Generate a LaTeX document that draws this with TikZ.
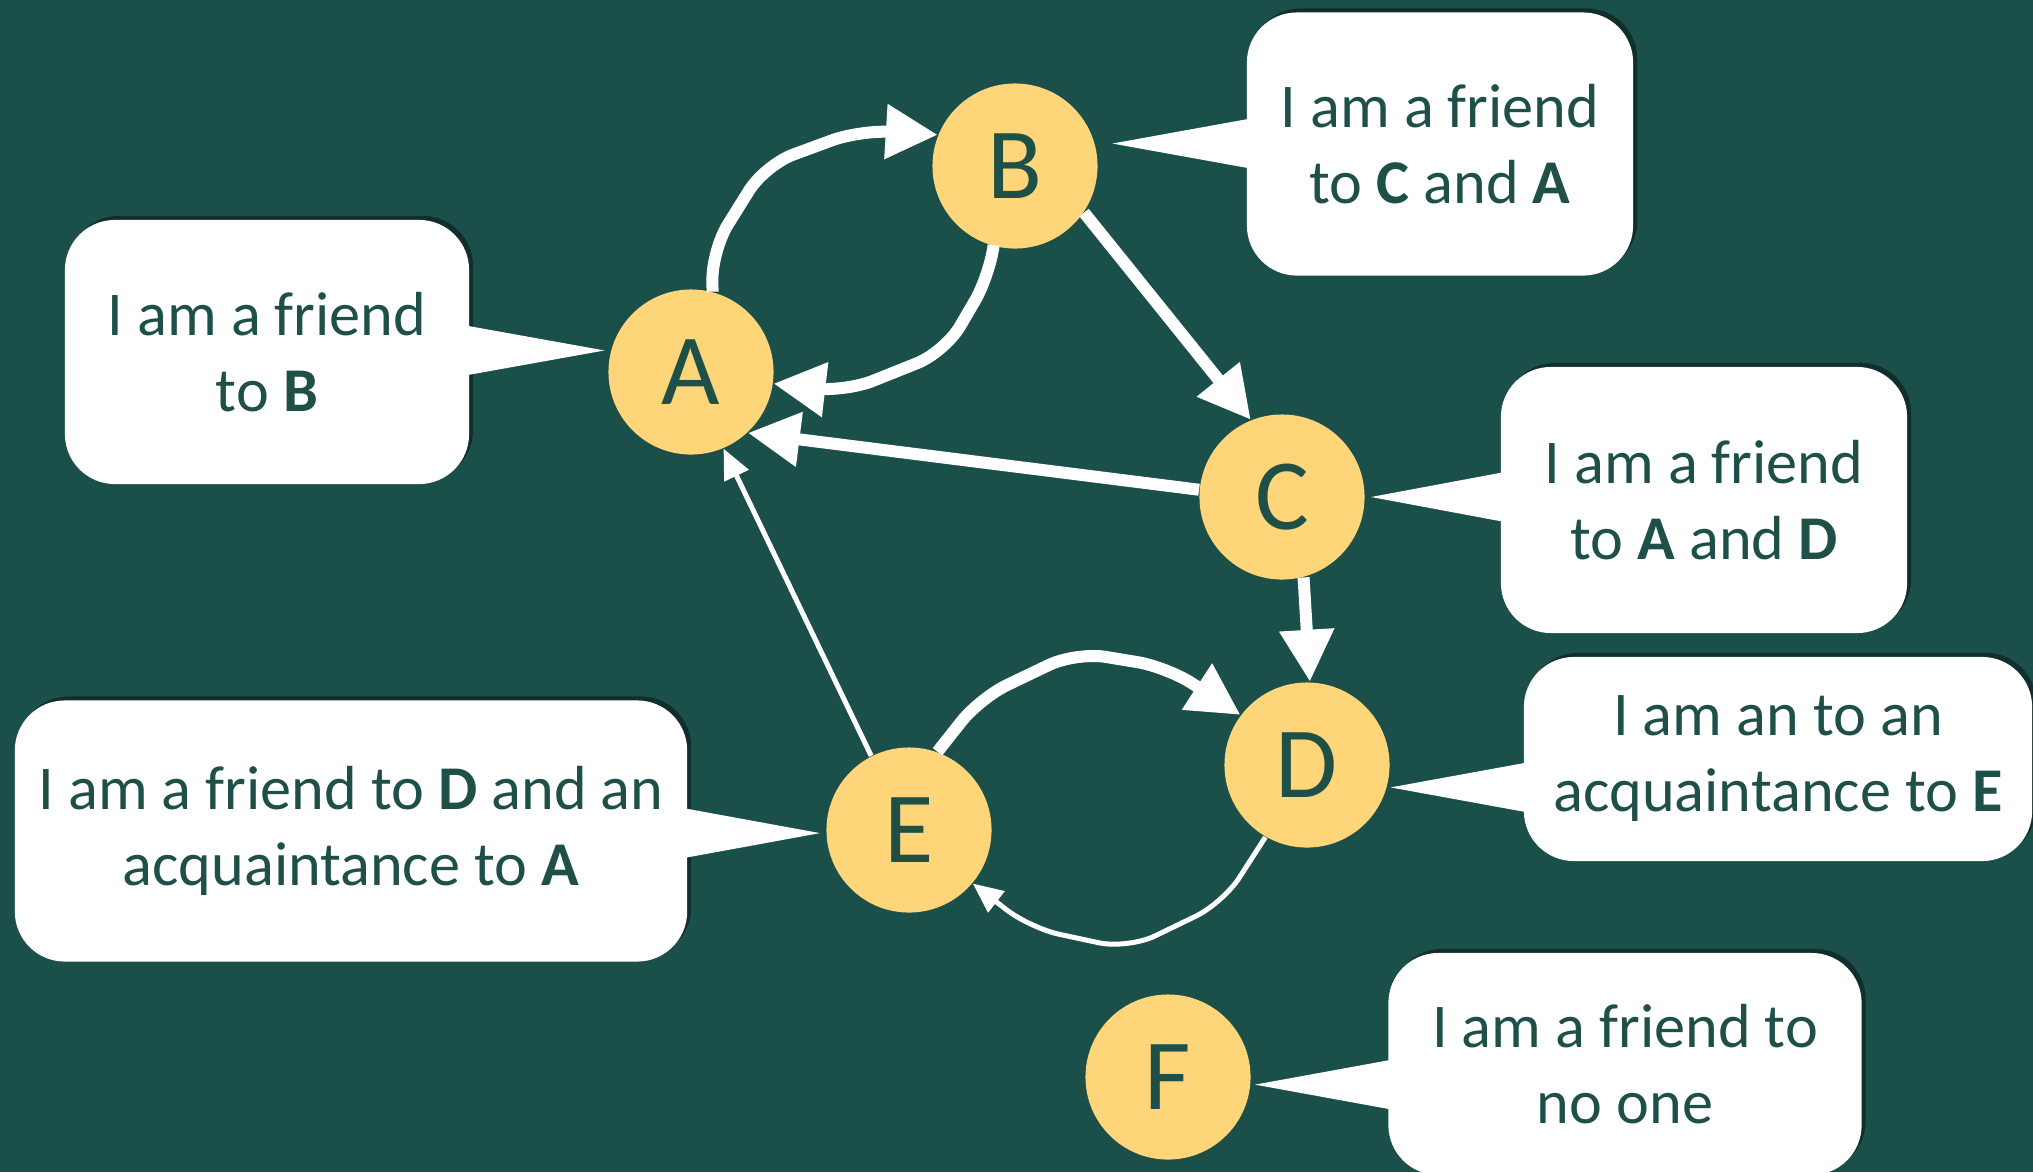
\documentclass[tikz,border=0pt]{standalone}
\usepackage{fontspec}
\setmainfont{Carlito}
\usetikzlibrary{ arrows.meta, % For the triangle tips
                 calc,        % For the tips of the bubbles
                 shadows,     % For the bubble shadows
               }
\definecolor{board}{RGB}{27,79,74}
\definecolor{ink}{RGB}{30,80,72}
\definecolor{sun}{RGB}{255,213,122}
\tikzset{
  person/.style={circle, fill=sun, text=ink, minimum size=1.65cm, inner sep=0pt,
                 font=\fontsize{28.7}{30}\selectfont},
  bubble/.style={fill=white, rounded corners=0.5cm, text=ink, align=center, inner sep=0pt,
                 font=\fontsize{17.7}{21.6}\selectfont,
                 drop shadow={shadow xshift=0.04cm, shadow yshift=0.04cm, opacity=0.4, fill=black}},
  friend/.style={draw=white, line width=0.12cm, rounded corners=0.3cm,
                 -{Triangle[length=0.52cm,width=0.52cm]}},
  acquaint/.style={draw=white, line width=0.05cm, rounded corners=0.3cm,
                   -{Triangle[length=0.3cm,width=0.26cm]}},
}
\begin{document}
\begin{tikzpicture}[x=0.01cm, y=-0.01cm] % one unit is one pixel
  \useasboundingbox (0,0) rectangle (2033,1172);
  \fill[board] (0,0) rectangle (2033,1172);

  % what each one says
  \node[bubble, minimum width=4.04cm, minimum height=2.64cm] (saysA) at (267,352) {I am a friend\\to \textbf{B}};
  \node[bubble, minimum width=3.86cm, minimum height=2.63cm] (saysB) at (1440,144) {I am a friend\\to \textbf{C} and \textbf{A}};
  \node[bubble, minimum width=4.06cm, minimum height=2.66cm] (saysC) at (1704,500) {I am a friend\\to \textbf{A} and \textbf{D}};
  \node[bubble, minimum width=5.08cm, minimum height=2.04cm] (saysD) at (1778,759) {I am an to an\\acquaintance to \textbf{E}};
  \node[bubble, minimum width=6.72cm, minimum height=2.61cm] (saysE) at (351,831) {I am a friend to \textbf{D} and an\\acquaintance to \textbf{A}};
  \node[bubble, minimum width=4.73cm, minimum height=2.22cm] (saysF) at (1625,1064) {I am a friend to\\no one};

  \node[person] (A) at (691,372) {A};
  \node[person] (B) at (1015,166) {B};
  \node[person] (C) at (1282,497) {C};
  \node[person] (D) at (1307,765) {D};
  \node[person] (E) at (909,830) {E};
  \node[person] (F) at (1168,1077) {F};

  \coordinate (tipA) at ($(A)!1.07!(A.166)$);
  \coordinate (tipB) at ($(B)!1.2!(B.13)$);
  \coordinate (tipC) at ($(C)!1.07!(C.0)$);
  \coordinate (tipD) at ($(D)!1.04!(D.-15)$);
  \coordinate (tipE) at ($(E)!1.07!(E.182)$);
  \coordinate (tipF) at ($(F)!1.05!(F.-5)$);

  \fill[white] (tipA) -- ($(saysA.east |- tipA)+(-10,26)$) -- ($(saysA.east |- tipA)+(-10,-26)$) -- cycle;
  \fill[white] (tipB) -- ($(saysB.west |- tipB)+(10,26)$) -- ($(saysB.west |- tipB)+(10,-26)$) -- cycle;
  \fill[white] (tipC) -- ($(saysC.west |- tipC)+(10,26)$) -- ($(saysC.west |- tipC)+(10,-26)$) -- cycle;
  \fill[white] (tipD) -- ($(saysD.west |- tipD)+(10,26)$) -- ($(saysD.west |- tipD)+(10,-26)$) -- cycle;
  \fill[white] (tipE) -- ($(saysE.east |- tipE)+(-10,26)$) -- ($(saysE.east |- tipE)+(-10,-26)$) -- cycle;
  \fill[white] (tipF) -- ($(saysF.west |- tipF)+(10,26)$) -- ($(saysF.west |- tipF)+(10,-26)$) -- cycle;

  % friends
  \draw[friend] (A.75) -- (712,250) -- (765,165) -- (860,130) -- (B.158);
  \draw[friend] (B.-105) -- (990,275) -- (945,352) -- (845,392) -- (A.-8);
  \draw[friend] (B.-34) -- (C.112);
  \draw[friend] (C.175) -- (A.-47);
  \draw[friend] (C.-75) -- (D.88);
  \draw[friend] (E.70) -- (980,698) -- (1076,652) -- (1167,667) -- (D.143);

  % acquaintances
  \draw[acquaint] (D.-120) -- (1223,903) -- (1128,949) -- (1030,928) -- (E.-40);
  \draw[acquaint] (E.117) -- (A.-67);
\end{tikzpicture}
\end{document}
